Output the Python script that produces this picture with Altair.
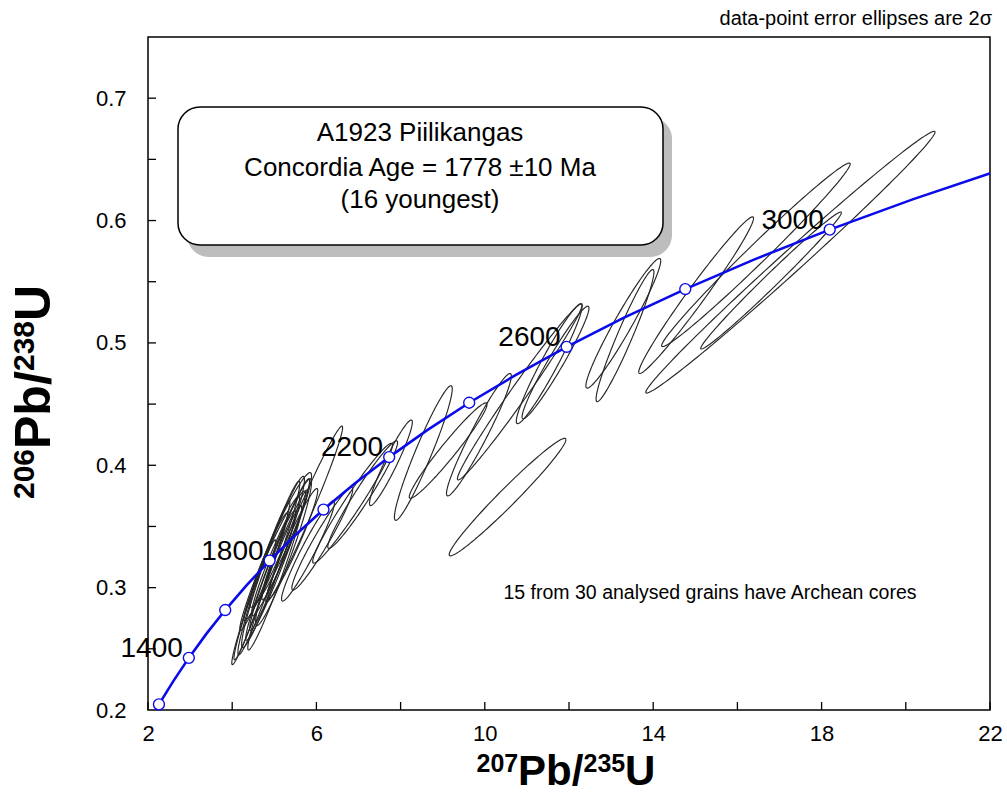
import altair as alt
import numpy as np
import pandas as pd

# ---------------- data ----------------
# concordia curve: age (Ma), 207Pb/235U, 206Pb/238U
conc_age = [1150, 1200, 1300, 1400, 1500, 1600, 1700, 1800, 1900, 2000, 2100,
            2200, 2300, 2400, 2500, 2600, 2700, 2800, 2900, 3000, 3100, 3200]
conc_x = [2.104, 2.260, 2.598, 2.970, 3.381, 3.834, 4.335, 4.887, 5.496, 6.168, 6.911,
          7.729, 8.633, 9.629, 10.730, 11.944, 13.283, 14.762, 16.393, 18.193, 20.180, 22.371]
conc_y = [0.1953, 0.2046, 0.2234, 0.2426, 0.2620, 0.2817, 0.3017, 0.3221, 0.3428, 0.3638, 0.3851,
          0.4067, 0.4287, 0.4511, 0.4737, 0.4968, 0.5202, 0.5440, 0.5681, 0.5926, 0.6175, 0.6428]
marker_ages = [1200, 1400, 1600, 1800, 2000, 2200, 2400, 2600, 2800, 3000]
label_ages = [1400, 1800, 2200, 2600, 3000]

# data-point error ellipses: centre, 2-sigma errors and error correlation
ell_x = [4.68, 4.87, 4.97, 5.08, 4.96, 4.94, 5.10, 5.22, 4.75, 5.01, 5.25, 5.15, 4.54, 5.44,
         5.71, 5.80, 6.14, 6.86, 7.10, 7.77,
         10.54, 8.54, 9.13, 9.86, 10.83, 11.53, 11.68, 13.29, 13.33, 17.26, 16.44, 16.80, 15.02]
ell_sx = [0.690, 0.735, 0.746, 0.758, 0.545, 0.664, 0.640, 0.664, 0.569, 0.640, 0.545, 0.735, 0.498, 0.592,
          0.912, 0.628, 0.723, 0.948, 0.829, 0.509,
          1.386, 0.687, 0.924, 0.770, 1.481, 0.782, 0.794, 0.889, 0.687, 3.436, 2.239, 1.671, 1.363]
ell_y = [0.304, 0.316, 0.321, 0.323, 0.314, 0.324, 0.328, 0.329, 0.313, 0.308, 0.335, 0.339, 0.290, 0.336,
         0.360, 0.330, 0.340, 0.369, 0.376, 0.402,
         0.374, 0.410, 0.412, 0.425, 0.460, 0.483, 0.484, 0.516, 0.506, 0.566, 0.572, 0.551, 0.539]
ell_sy = [0.067, 0.071, 0.070, 0.066, 0.049, 0.051, 0.051, 0.060, 0.048, 0.059, 0.045, 0.055, 0.049, 0.045,
          0.072, 0.041, 0.042, 0.049, 0.044, 0.035,
          0.048, 0.055, 0.039, 0.050, 0.072, 0.049, 0.046, 0.053, 0.054, 0.107, 0.075, 0.056, 0.064]
ell_rho = [0.980, 0.9725, 0.9614, 0.9743, 0.9669, 0.9706, 0.9614, 0.9503, 0.9706, 0.9706, 0.9743, 0.9503,
           0.9706, 0.9632,
           0.9817, 0.9577, 0.9595, 0.9706, 0.9669, 0.9484,
           0.9780, 0.9521, 0.9688, 0.9595, 0.9872, 0.9595, 0.9651, 0.9632, 0.9595, 0.9938, 0.9896, 0.9907, 0.9817]

x_label_values = [2, 6, 10, 14, 18, 22]
x_tick_values = [2, 4, 6, 8, 10, 12, 14, 16, 18, 20, 22]
y_label_values = [0.2, 0.3, 0.4, 0.5, 0.6, 0.7]
y_tick_values = [0.25, 0.3, 0.35, 0.4, 0.45, 0.5, 0.55, 0.6, 0.65, 0.7]

box_lines = ["A1923 Piilikangas", "Concordia Age = 1778 \u00b110 Ma", "(16 youngest)"]
note_top = "data-point error ellipses are 2\u03c3"
note_bottom = "15 from 30 analysed grains have Archean cores"

# ---------------- tables ----------------
FONT = "Liberation Sans, Arial, sans-serif"
BLUE = "#0b0bea"
W, H = 842, 673

conc = pd.DataFrame({"age": conc_age, "x": conc_x, "y": conc_y})
marks = conc[conc["age"].isin(marker_ages)]
labels = conc[conc["age"].isin(label_ages)].assign(lab=lambda d: d["age"].astype(str))

theta = np.linspace(0, 2 * np.pi, 145)
rows = []
for k in range(len(ell_x)):
    r = ell_rho[k]
    xs_ = ell_x[k] + ell_sx[k] * np.cos(theta)
    ys_ = ell_y[k] + ell_sy[k] * (r * np.cos(theta) + np.sqrt(1 - r * r) * np.sin(theta))
    for j in range(len(theta)):
        rows.append({"id": k, "j": j, "x": xs_[j], "y": ys_[j]})
ell = pd.DataFrame(rows)

xs = alt.Scale(domain=[2, 22], nice=False, zero=False)
ys = alt.Scale(domain=[0.2, 0.75], nice=False, zero=False)

xaxis = alt.Axis(values=x_label_values, format="d", title=None, ticks=False, domain=False,
                 grid=False, labelPadding=13, labelFontSize=22, labelFont=FONT, labelColor="black",
                 labelFlush=False, labelOverlap=False)
yaxis = alt.Axis(values=y_label_values, format=".1f", title=None, ticks=False, domain=False,
                 grid=False, labelPadding=22, labelFontSize=22, labelFont=FONT, labelColor="black",
                 labelFlush=False, labelOverlap=False)


def X(f):
    return alt.X(f, scale=xs, axis=xaxis)


def Y(f):
    return alt.Y(f, scale=ys, axis=yaxis)


ellipses = alt.Chart(ell).mark_line(color="#262626", strokeWidth=1.15, clip=True).encode(
    x=X("x:Q"), y=Y("y:Q"), detail="id:N", order="j:Q",
)

curve = alt.Chart(conc).mark_line(color=BLUE, strokeWidth=2.6, clip=True).encode(
    x=X("x:Q"), y=Y("y:Q"), order="age:Q",
)

pts = alt.Chart(marks).mark_point(shape="circle", filled=True, fill="white", stroke=BLUE,
                                  strokeWidth=1.4, size=120, opacity=1).encode(
    x=X("x:Q"), y=Y("y:Q"),
)

age_text = alt.Chart(labels).mark_text(align="right", baseline="alphabetic", dx=-6, dy=-1,
                                       fontSize=28, font=FONT, color="black").encode(
    x=X("x:Q"), y=Y("y:Q"), text="lab:N",
)

one = pd.DataFrame({"k": [0]})


def rect(x1, x2, y1, y2, **kw):
    return alt.Chart(one).mark_rect(**kw).encode(
        x=alt.value(x1), x2=alt.value(x2), y=alt.value(y1), y2=alt.value(y2))


def label(text, x, y, **kw):
    return alt.Chart(one).mark_text(font=FONT, color="black", **kw).encode(
        x=alt.value(x), y=alt.value(y), text=alt.value(text))


shadow = rect(39, 524, 80, 220, fill="#bdbdbd", cornerRadius=22)
box = rect(30, 515, 70, 208, fill="white", stroke="black", strokeWidth=1.5, cornerRadius=22)
box_text = [
    label(box_lines[0], 272, 96, fontSize=26, align="center", baseline="middle"),
    label(box_lines[1], 272, 131, fontSize=26, align="center", baseline="middle"),
    label(box_lines[2], 272, 163, fontSize=26, align="center", baseline="middle"),
]
notes = [
    label(note_top, 844, -12, fontSize=20, align="right", baseline="alphabetic"),
    label(note_bottom, 562, 556, fontSize=19.5, align="center", baseline="middle"),
]

xticks = alt.Chart(pd.DataFrame({"v": x_tick_values})).mark_rule(color="black", strokeWidth=1.3).encode(
    x=X("v:Q"), y=alt.value(H), y2=alt.value(H - 8))
yticks = alt.Chart(pd.DataFrame({"v": y_tick_values})).mark_rule(color="black", strokeWidth=1.3).encode(
    y=Y("v:Q"), x=alt.value(0), x2=alt.value(8))

# axis titles with superscript mass numbers
MAIN_X, SUP_X = 42, 25
xtitle = [
    label("207", 328.5, 735, fontSize=SUP_X, fontWeight="bold", align="left", baseline="alphabetic"),
    label("Pb/", 370, 748, fontSize=MAIN_X, fontWeight="bold", align="left", baseline="alphabetic"),
    label("235", 435.5, 735, fontSize=SUP_X, fontWeight="bold", align="left", baseline="alphabetic"),
    label("U", 477, 748, fontSize=MAIN_X, fontWeight="bold", align="left", baseline="alphabetic"),
]
MAIN_Y, SUP_Y = 50, 30
ytitle = [
    label("206", -114, 499 - 37, fontSize=SUP_Y, fontWeight="bold", align="left", baseline="alphabetic", angle=270),
    label("Pb/", -98, 449 - 37, fontSize=MAIN_Y, fontWeight="bold", align="left", baseline="alphabetic", angle=270),
    label("238", -114, 371 - 37, fontSize=SUP_Y, fontWeight="bold", align="left", baseline="alphabetic", angle=270),
    label("U", -98, 321 - 37, fontSize=MAIN_Y, fontWeight="bold", align="left", baseline="alphabetic", angle=270),
]

chart = alt.layer(
    ellipses, curve, pts, age_text, shadow, box, *box_text, *notes, xticks, yticks, *xtitle, *ytitle
).properties(
    width=W, height=H,
    padding={"left": 148, "top": 37, "right": 17, "bottom": 84},
    autosize=alt.AutoSizeParams(type="none"),
    background="white",
).configure_view(stroke="black", strokeWidth=1.5)

chart.save("out.html", embed_options={"renderer": "svg", "actions": False})
